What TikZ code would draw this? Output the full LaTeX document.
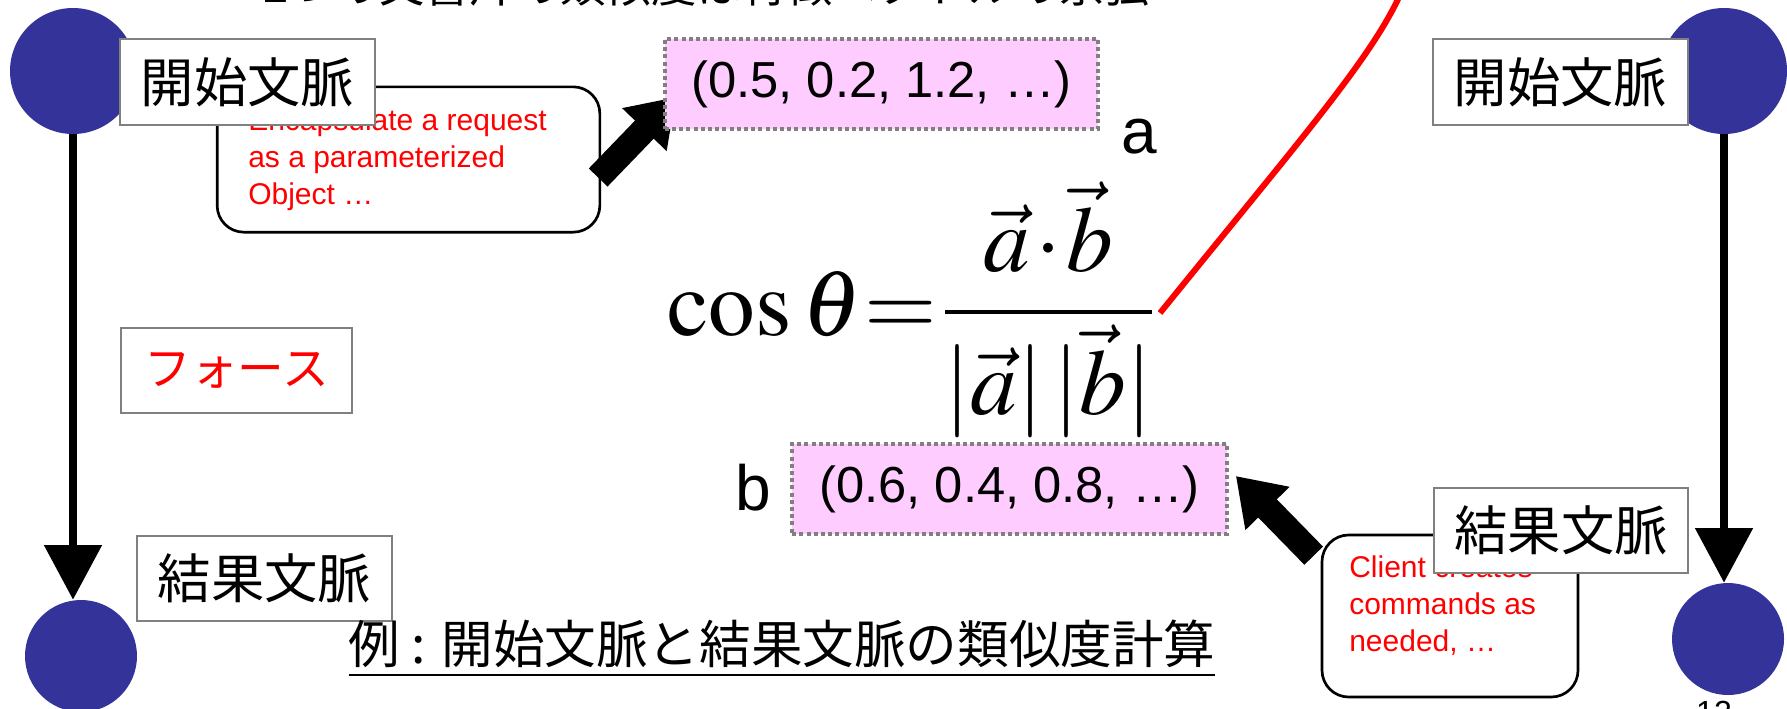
\documentclass[tikz,border=0pt]{standalone}
\usepackage{mathptmx}
\usepackage[no-math]{fontspec}
\newfontfamily\arialfont{Liberation Sans}
\newfontfamily\jpfont{Noto Sans CJK JP}
\usetikzlibrary{arrows.meta}
\usetikzlibrary{calc}
\usetikzlibrary{backgrounds}
\definecolor{ctxblue}{RGB}{51,51,153}
\definecolor{vecpink}{RGB}{255,204,255}
\definecolor{boxgray}{RGB}{128,128,128}

\begin{document}
\begin{tikzpicture}[x=0.75pt,y=0.75pt,yscale=-1,xscale=1,
  ctx/.style={circle,fill=ctxblue,inner sep=0pt},
  ctxlabel/.style={draw=boxgray,line width=1.5pt,fill=white,minimum width=191pt,minimum height=64pt,inner sep=0pt,font=\jpfont\fontsize{40}{48}\selectfont},
  callout/.style={draw,line width=2pt,rounded corners=20pt,inner sep=0pt},
  callouttext/.style={anchor=north west,inner sep=0pt,align=left,text=red,font=\arialfont\fontsize{22.5}{27.75}\selectfont},
  vecbox/.style={draw=boxgray,line width=3pt,dash pattern=on 3pt off 2.4pt,fill=vecpink,minimum width=325pt,minimum height=67.5pt,inner sep=0pt,font=\arialfont\fontsize{38}{46}\selectfont},
  veclabel/.style={anchor=base,inner sep=0pt,font=\arialfont\fontsize{48}{58}\selectfont},
  flow/.style={line width=6.3pt,-{Triangle[width=42pt,length=41pt]}},
  blockarrow/.style={line width=19.5pt,-{Triangle[width=44pt,length=34pt]}}
]
\useasboundingbox (0,0) rectangle (1787,708);

% heading (cut by the page edge)
\node[anchor=base west,inner sep=0pt,font=\jpfont\fontsize{34}{40}\selectfont] (heading) at (263,2) {2つの文書片の類似度は特徴ベクトルの余弦};

% contexts
\node[ctx,minimum size=94.5pt] (startL) at (73,71) {};
\node[ctx,minimum size=84pt] (endL) at (81,656) {};
\node[ctx,minimum size=94.5pt] (startR) at (1724,71) {};
\node[ctx,minimum size=84pt] (endR) at (1728,639) {};

\draw[flow] (startL.south) -- (startL.south |- endL.north);
\draw[flow] (startR.south) -- (startR.south |- endR.north);

% callouts
\node[callout,minimum width=287pt,minimum height=109pt] (callA) at (408.5,159.5) {};
\node[callouttext] (callAtext) at (248,108) {Encapsulate a request\\as a parameterized\\Object …};
\node[callout,minimum width=192pt,minimum height=121.5pt] (callB) at (1450,616) {};
\node[callouttext] (callBtext) at (1349,555) {Client creates\\commands as\\needed, …};

% labels
\node[ctxlabel] (lblStartL) at (247.5,82) {開始文脈};
\node[ctxlabel] (lblEndL) at (264.5,578.5) {結果文脈};
\node[ctxlabel] (lblStartR) at (1560.5,82) {開始文脈};
\node[ctxlabel] (lblEndR) at (1561,530.5) {結果文脈};
\node[ctxlabel,minimum width=173pt,text=red,font=\jpfont\fontsize{35}{42}\selectfont] (force) at (236.5,370.5) {フォース};

% vectors
\node[vecbox] (vecA) at (881.5,84) {(0.5, 0.2, 1.2, …)};
\node[vecbox,minimum width=326pt] (vecB) at (1009.5,489) {(0.6, 0.4, 0.8, …)};
\node[veclabel] (labA) at (1139,153) {a};
\node[veclabel] (labB) at (753,510) {b};

\begin{scope}[on background layer]
\draw[blockarrow] ($(callA.east)+(-3,18)$) -- ($(vecA.west)+(13,13)$);
\draw[blockarrow] ($(callB.north west)+(-7,22)$) -- ($(vecB.east)+(7,-13)$);
\end{scope}

% formula
\node[anchor=base west,inner sep=0pt,font=\fontsize{70}{84}\selectfont] (cosine) at (667,335) {$\displaystyle\cos\theta\mskip0.6mu{=}\mskip1.2mu\frac{\vec{a}\mskip1mu{\cdot}\mskip1mu\vec{b}}{|\vec{a}|\,|\vec{b}|}$};
\draw[red,line width=4.5pt] (1160,313) .. controls (1300,140) and (1370,60) .. (1400,-5);

% caption
\node[anchor=base,inner sep=0pt,font=\jpfont\fontsize{38.7}{46}\selectfont] (caption) at (782,663) {\underline{例 : 開始文脈と結果文脈の類似度計算}};
\node[anchor=north,inner sep=0pt,font=\arialfont\fontsize{24}{29}\selectfont] (pageno) at (1714,701) {12};

\end{tikzpicture}
\end{document}
